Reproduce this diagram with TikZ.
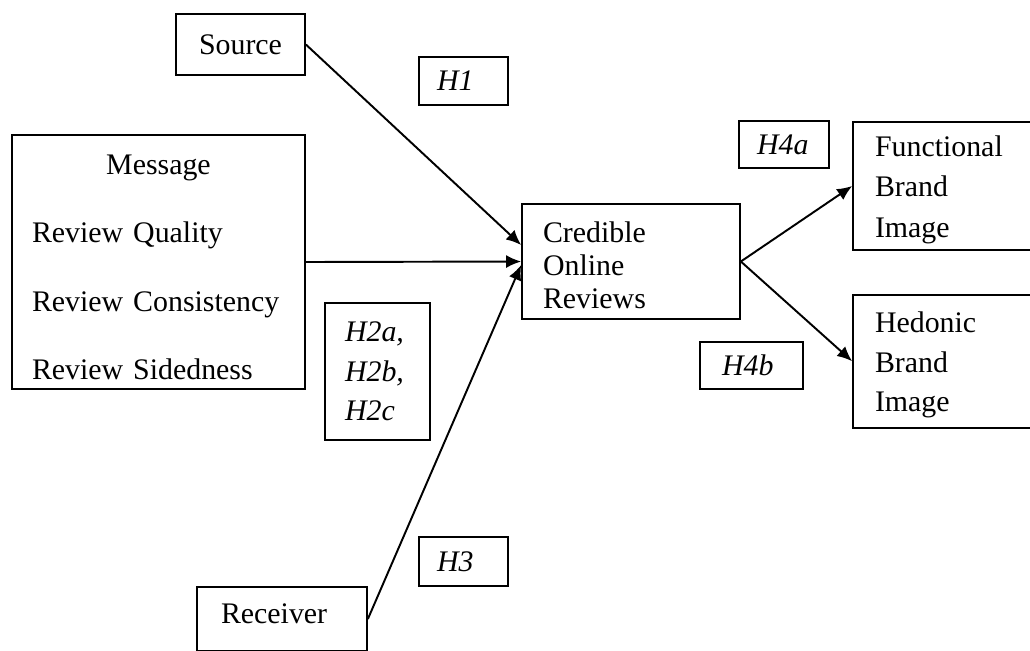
\documentclass[tikz,border=0pt]{standalone}
\usepackage{fontspec}
\setmainfont{Liberation Serif}
\usetikzlibrary{arrows.meta,positioning}
\newcommand{\toprule}[1][16pt]{\rule{0pt}{#1}}

\begin{document}
\begin{tikzpicture}[x=0.02cm,y=-0.02cm,
  box/.style={draw,line width=1pt,align=left,inner ysep=0pt,font=\fontsize{17}{23}\selectfont},
  hyp/.style={box,font=\fontsize{17}{22.5}\selectfont\itshape,inner xsep=0.36cm},
  arrow/.style={-{Latex[length=3mm,width=2.6mm]},line width=1.1pt}
]
\useasboundingbox (0,0) rectangle (1030,650);
\clip (0,0) rectangle (1030,650);

% antecedents
\node[box,align=center,inner xsep=0.2cm,text width=2.18cm,minimum height=1.22cm] (src) at (240.5,44.5) {Source};
\node[box,inner xsep=0.4cm,text width=5.06cm,minimum height=5.08cm,font=\fontsize{17}{39}\selectfont] (msg) at (158.5,262)
  {\makebox[\hsize]{\toprule[17pt]Message}\\Review Quality\\Review Consistency\\Review Sidedness};
\node[box,inner xsep=0.48cm,text width=2.44cm,minimum height=1.28cm] (rcv) at (282,619) {Receiver\vspace*{6pt}};

% mediator and outcomes
\node[box,inner xsep=0.42cm,text width=3.52cm,minimum height=2.3cm,font=\fontsize{17}{19}\selectfont] (cor) at (631,261.5)
  {\toprule Credible\\Online\\Reviews};
\node[box,inner xsep=0.44cm,text width=3.12cm,minimum height=2.56cm] (fbi) at (953,186) {\toprule Functional\\Brand\\Image};
\node[box,inner xsep=0.44cm,text width=3.12cm,minimum height=2.66cm,font=\fontsize{17}{22.5}\selectfont,below=0.86cm of fbi] (hbi)
  {\toprule Hedonic\\Brand\\Image};

% hypotheses
\node[hyp,text width=1.06cm,minimum height=0.96cm] (h1) at (463.5,81) {H1};
\node[hyp,inner xsep=0.4cm,text width=1.3cm,minimum height=2.74cm] (h2) at (377.5,371.5) {H2a,\\H2b,\\H2c};
\node[hyp,text width=1.06cm,minimum height=0.98cm] (h3) at (463.5,561.5) {H3};
\node[hyp,text width=1.08cm,minimum height=0.94cm] (h4a) at (784,144.5) {H4a};
\node[hyp,inner xsep=0.44cm,text width=1.18cm,minimum height=0.94cm] (h4b) at (751.5,365.5) {H4b};

\draw[arrow] (src.east) -- ([yshift=0.33cm]cor.west);
\draw[arrow] (msg.east) -- (cor.west);
\draw[arrow] (rcv.east) -- ([yshift=-0.07cm]cor.west);
\draw[arrow] (cor.east) -- (fbi.west);
\draw[arrow] (cor.east) -- (hbi.west);
\end{tikzpicture}
\end{document}
